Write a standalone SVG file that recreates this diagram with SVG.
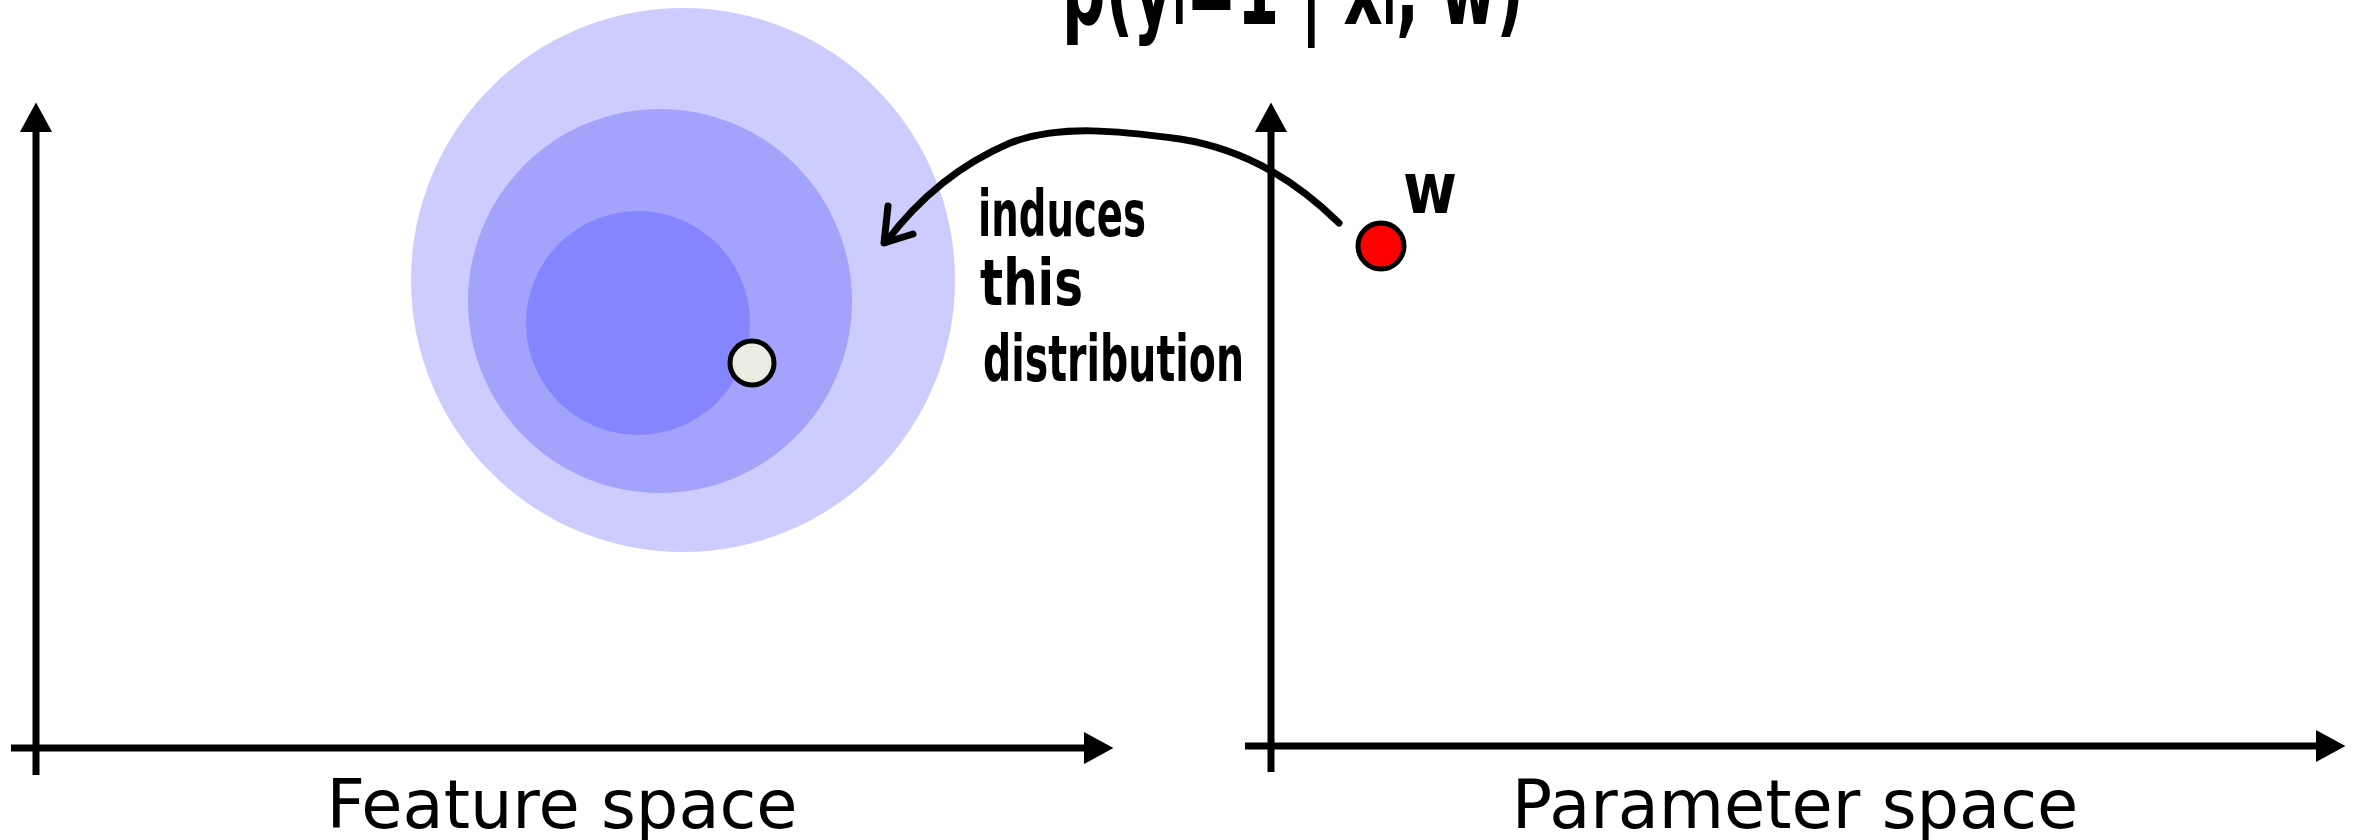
<svg xmlns="http://www.w3.org/2000/svg" width="2364" height="840" viewBox="0 0 2364 840">
<style>
.axis{stroke:#000;stroke-width:7;fill:none}
.ink{stroke:#000;stroke-width:7;fill:none;stroke-linecap:round;stroke-linejoin:round}
.label{font-family:"DejaVu Sans",sans-serif;font-size:67px;fill:#000}
.hand{font-family:"DejaVu Sans",sans-serif;fill:#000;font-weight:bold}
</style>
<defs>
<marker id="ah" markerWidth="6" markerHeight="6" refX="2" refY="3" orient="auto" markerUnits="strokeWidth" viewBox="0 0 6 6">
<path d="M0,0.7 L4.2,3 L0,5.3 Z" fill="#000"/>
</marker>
</defs>
<rect width="2364" height="840" fill="#fff"/>
<g id="distribution">
<circle cx="683" cy="280" r="272" fill="#ccccff"/>
<circle cx="660" cy="301" r="192" fill="#a3a3fc"/>
<circle cx="638" cy="323" r="112" fill="#8585fe"/>
</g>
<g id="feature-axes">
<line class="axis" x1="36" y1="775" x2="36" y2="118" marker-end="url(#ah)"/>
<line class="axis" x1="11" y1="748" x2="1098" y2="748" marker-end="url(#ah)"/>
<text class="label" x="562" y="828" text-anchor="middle">Feature space</text>
</g>
<g id="parameter-axes">
<line class="axis" x1="1271" y1="772" x2="1271" y2="118" marker-end="url(#ah)"/>
<line class="axis" x1="1245" y1="746" x2="2330" y2="746" marker-end="url(#ah)"/>
<text class="label" x="1795" y="828" text-anchor="middle">Parameter space</text>
</g>
<g id="data-point">
<circle cx="752" cy="363" r="22" fill="#ecebe2" stroke="#000" stroke-width="5"/>
</g>
<g id="w-point">
<circle cx="1381" cy="246" r="23" fill="#ff0000" stroke="#000" stroke-width="5"/>
<text class="hand" x="1403" y="213" font-size="72" textLength="54" lengthAdjust="spacingAndGlyphs">w</text>
</g>
<g id="connectors">
<path class="ink" d="M1339,223 C1300,185 1250,150 1180,139 C1120,131 1060,124 1010,143 C970,160 925,190 886,242"/>
<path class="ink" d="M888,206 L884,243 L913,234"/>
</g>
<g id="annotation">
<text class="hand" font-size="64" x="978" y="236" textLength="168" lengthAdjust="spacingAndGlyphs">induces</text>
<text class="hand" font-size="64" x="980" y="305" textLength="103" lengthAdjust="spacingAndGlyphs">this</text>
<text class="hand" font-size="64" x="983" y="381" textLength="261" lengthAdjust="spacingAndGlyphs">distribution</text>
</g>
<g id="formula">
<text class="hand" font-size="100" x="1062" y="24" textLength="462" lengthAdjust="spacingAndGlyphs">p(yᵢ=1 | xᵢ, w)</text>
</g>
</svg>
